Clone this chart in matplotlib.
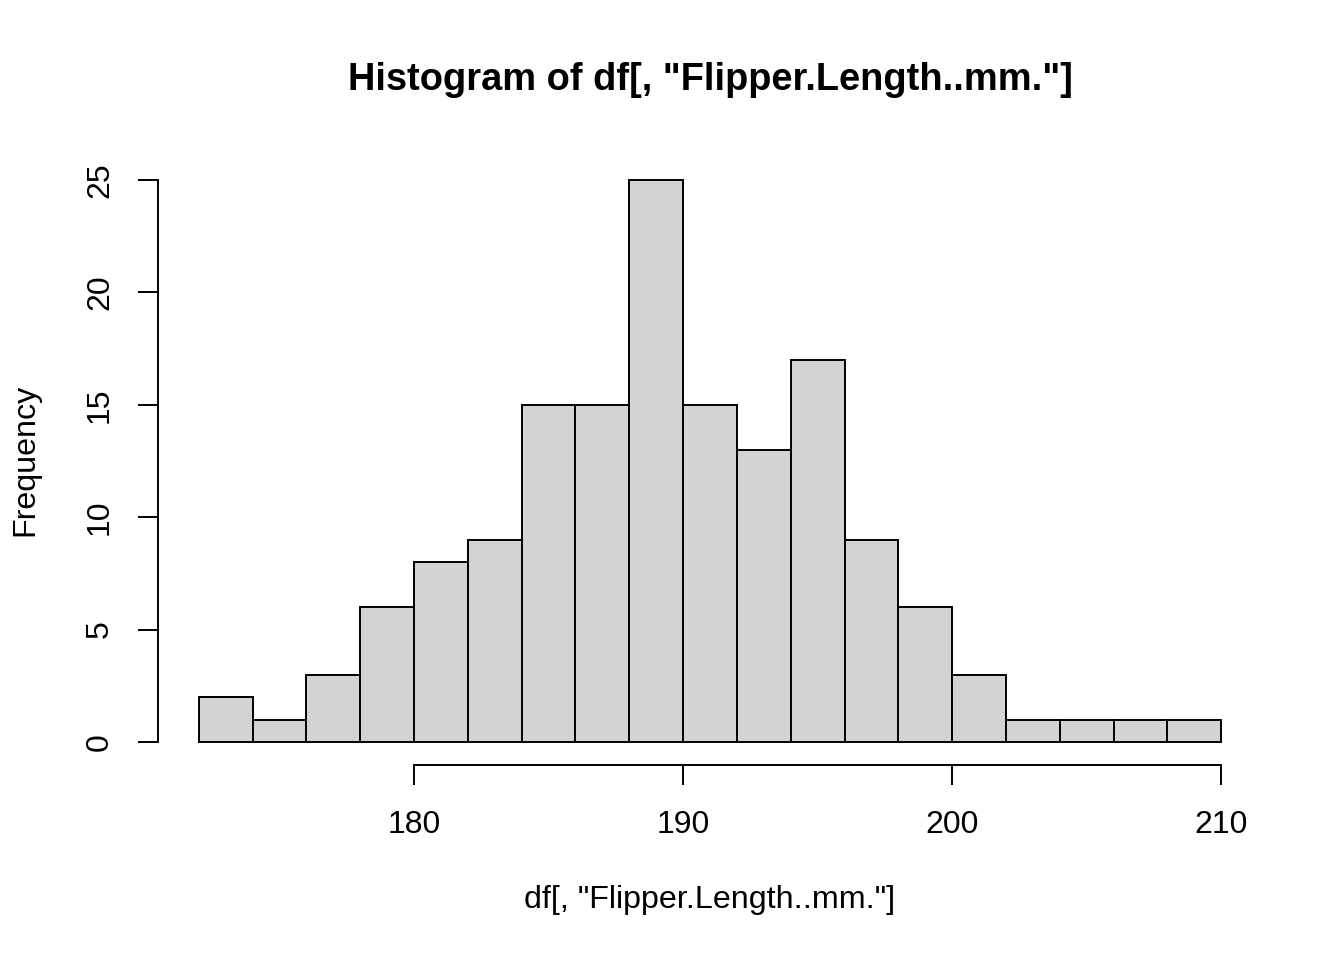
import matplotlib.pyplot as plt
import numpy as np

plt.rcParams['font.family'] = ['Liberation Sans', 'DejaVu Sans']

# histogram bins (width 2) and counts
bin_edges = np.arange(172, 212, 2)
counts = [2, 1, 3, 6, 8, 9, 15, 15, 25, 15, 13, 17, 9, 6, 3, 1, 1, 1, 1]
x_ticks = [180, 190, 200, 210]
y_ticks = [0, 5, 10, 15, 20, 25]

W, H = 1344, 960
fig = plt.figure(figsize=(W / 100, H / 100), dpi=100)

# plot region in pixels (R style, 4% padding)
left, right, top, bottom = 158, 1262, 157.5, 764.5
ax = fig.add_axes([left / W, 1 - bottom / H, (right - left) / W, (bottom - top) / H])

ax.bar(bin_edges[:-1], counts, width=np.diff(bin_edges), align='edge',
       color='#d3d3d3', edgecolor='black', linewidth=1.4)

ax.set_xlim(170.48, 211.52)
ax.set_ylim(-1, 26)

for s in ['top', 'right']:
    ax.spines[s].set_visible(False)
ax.spines['left'].set_bounds(0, 25)
ax.spines['bottom'].set_bounds(180, 210)
ax.spines['left'].set_linewidth(1.4)
ax.spines['bottom'].set_linewidth(1.4)

ax.set_xticks(x_ticks)
ax.set_yticks(y_ticks)
ax.set_yticklabels([str(v) for v in y_ticks], rotation=90, va='center')
ax.tick_params(axis='both', length=14.4, width=1.4, labelsize=23)
ax.tick_params(axis='x', pad=18.5)
ax.tick_params(axis='y', pad=16.5)

fig.text(710 / W, 1 - 80 / H, 'Histogram of df[, "Flipper.Length..mm."]',
         ha='center', va='center', fontsize=27.4, fontweight='bold')
fig.text(710 / W, 1 - 900 / H, 'df[, "Flipper.Length..mm."]',
         ha='center', va='center', fontsize=23.2)
fig.text(25 / W, 1 - 460 / H, 'Frequency', rotation=90,
         ha='center', va='center', fontsize=23.2)

plt.savefig('out.png', dpi=100)
